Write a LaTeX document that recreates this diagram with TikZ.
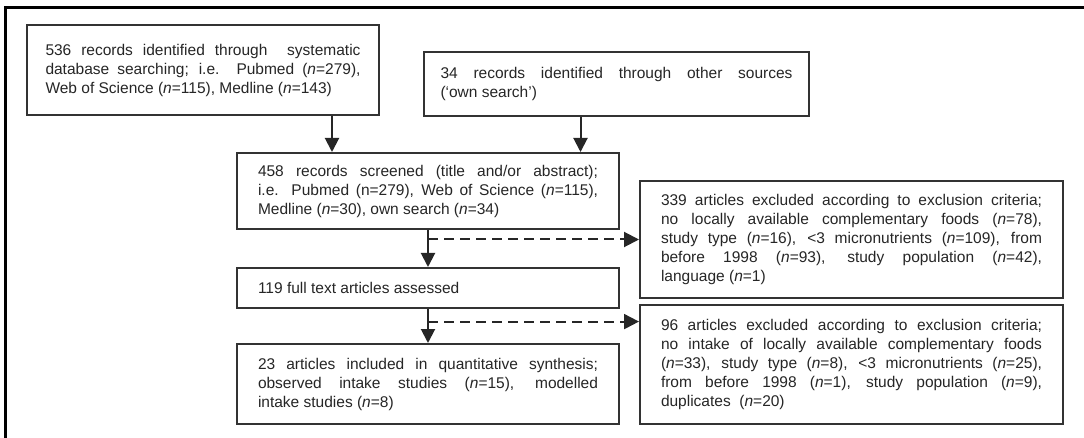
\documentclass[tikz,border=0pt]{standalone}
\usepackage{fontspec}
\setmainfont{Liberation Sans}
\usetikzlibrary{arrows.meta,positioning,calc}

\begin{document}
\begin{tikzpicture}[
        x=1pt, y=-1pt,
        font=\fontsize{15.5}{19}\selectfont,
        box/.style={rectangle, draw=black!80, line width=2pt, fill=white, anchor=north west,
                    align=justify, inner xsep=0pt, inner ysep=0pt, text=black!85},
        arr/.style={-{Triangle[length=14pt,width=14pt]}, line width=2pt, black!85},
        dasharr/.style={-{Triangle[length=15pt,width=15pt]}, line width=2pt, black!85, dash pattern=on 10pt off 6pt},
    ]
    \useasboundingbox (0,0) rectangle (1084,438);
    % frame, cut by the page on the right and bottom
    \draw[line width=3pt] (5,8) rectangle (1100,460);

    % Identification
    \node[box, minimum width=352pt, minimum height=90pt, text width=315pt] (ident) at (26,24)
        {536 records identified through \ systematic\linebreak
         database searching; i.e. Pubmed (\textit{n}=279),\linebreak
         Web of Science (\textit{n}=115), Medline (\textit{n}=143)};
    \node[box, minimum width=385pt, minimum height=64pt, text width=352pt] (other) at (423,51)
        {34 records identified through other sources\linebreak
         (‘own search’)};

    % Screening
    \node[box, minimum width=382pt, minimum height=76pt, text width=340pt] (screen) at (236,152)
        {458 records screened (title and/or abstract);\linebreak
         i.e. Pubmed (n=279), Web of Science (\textit{n}=115),\linebreak
         Medline (\textit{n}=30), own search (\textit{n}=34)};
    \node[box, minimum width=423pt, minimum height=117pt, text width=381pt] (excla) at (639,180)
        {339 articles excluded according to exclusion criteria;\linebreak
         no locally available complementary foods (\textit{n}=78),\linebreak
         study type (\textit{n}=16), <3 micronutrients (\textit{n}=109), from\linebreak
         before 1998 (\textit{n}=93), study population (\textit{n}=42),\linebreak
         language (\textit{n}=1)};

    % Eligibility
    \node[box, minimum width=382pt, minimum height=40pt, text width=340pt] (full) at (236,267)
        {119 full text articles assessed};
    \node[box, minimum width=423pt, minimum height=119pt, text width=381pt] (exclb) at (639,304)
        {96 articles excluded according to exclusion criteria;\linebreak
         no intake of locally available complementary foods\linebreak
         (\textit{n}=33), study type (\textit{n}=8), <3 micronutrients (\textit{n}=25),\linebreak
         from before 1998 (\textit{n}=1), study population (\textit{n}=9),\linebreak
         duplicates \ (\textit{n}=20)};

    % Included
    \node[box, minimum width=382pt, minimum height=80pt, text width=340pt] (incl) at (236,343)
        {23 articles included in quantitative synthesis;\linebreak
         observed intake studies (\textit{n}=15), modelled\linebreak
         intake studies (\textit{n}=8)};

    % connectors
    \draw[arr] ([xshift=-48pt]ident.south east) -- ([xshift=-48pt]ident.south east |- screen.north);
    \draw[arr] ([xshift=-36pt]other.south) -- ([xshift=-36pt]other.south |- screen.north);
    \draw[arr] (screen.south) -- (full.north);
    \draw[arr] (full.south) -- (incl.north);

    \coordinate (splita) at (screen.south |- excla.west);
    \coordinate (splitb) at ($(full.south)!0.37!(incl.north)$);
    \draw[dasharr] (splita) -- (excla.west);
    \draw[dasharr] (splitb) -- (splitb -| exclb.west);
\end{tikzpicture}
\end{document}
